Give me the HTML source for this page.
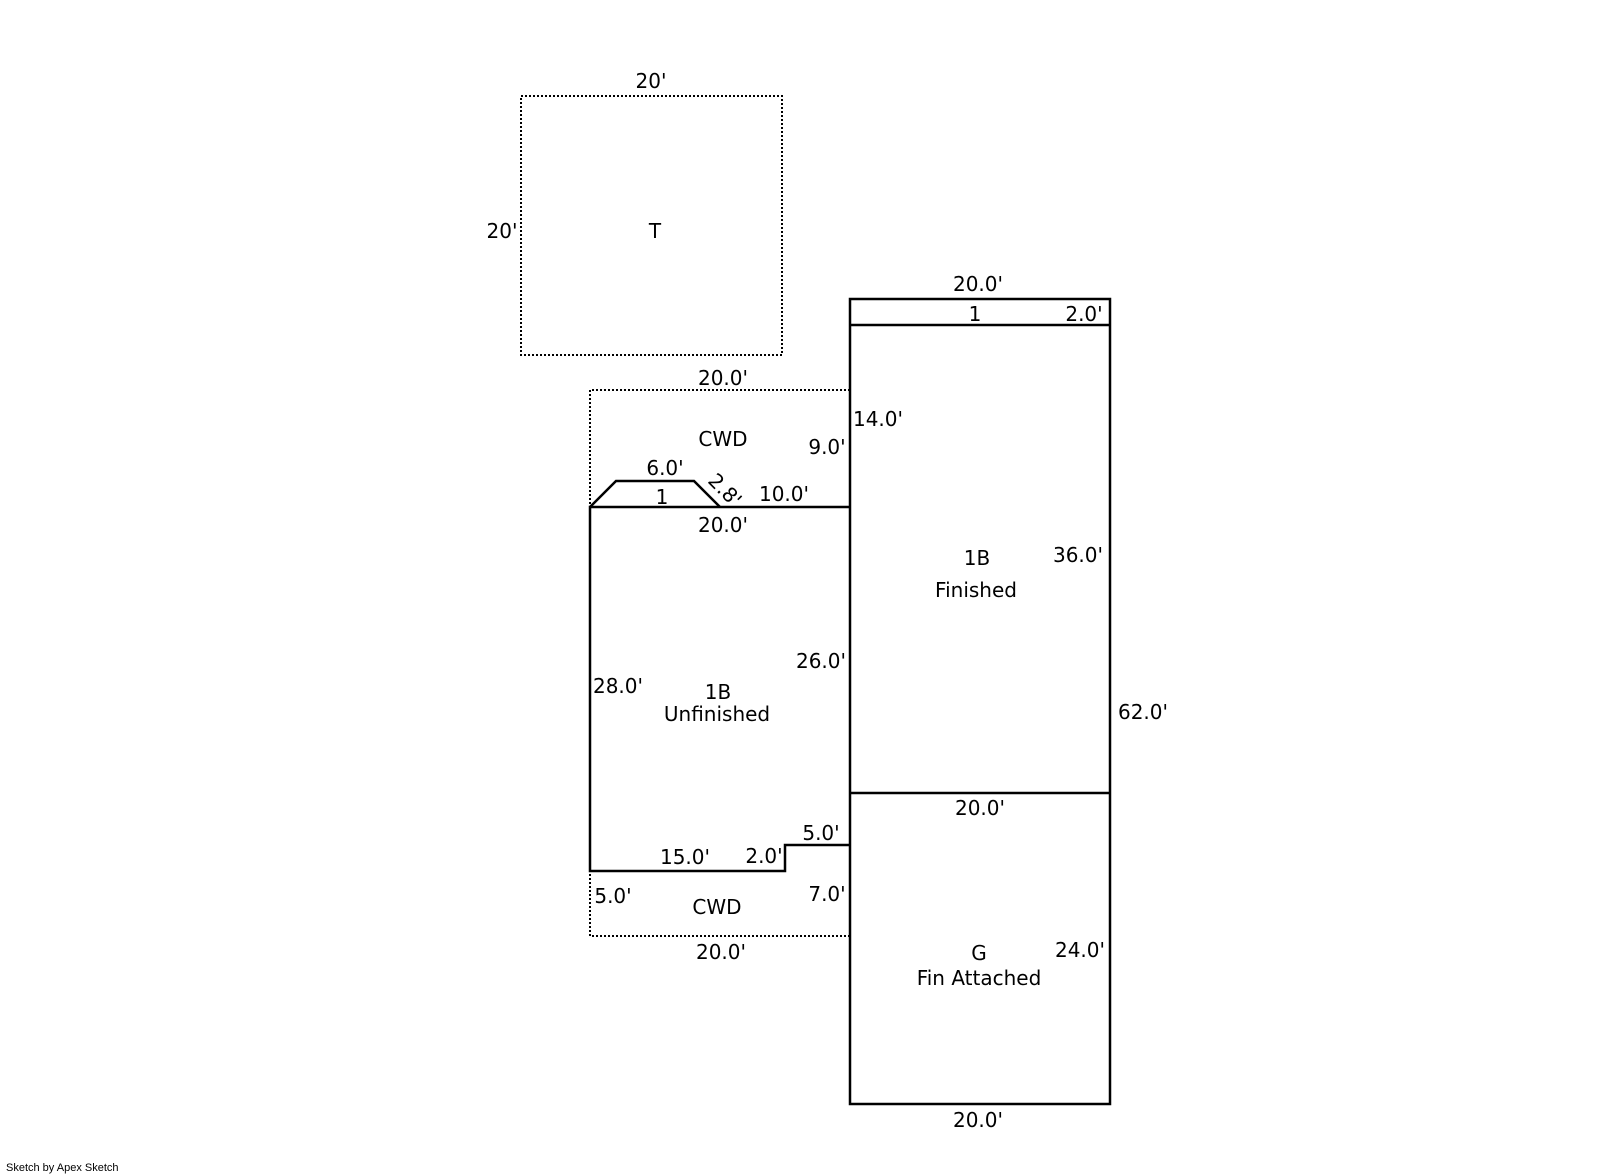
<!DOCTYPE html>
<html><head><style>html,body{margin:0;padding:0;background:#fff}svg{display:block}</style></head>
<body>
<svg width="1601" height="1174" viewBox="0 0 1601 1174" xmlns="http://www.w3.org/2000/svg" font-family="DejaVu Sans, Verdana, sans-serif" font-size="20" fill="#000">
<g fill="none" stroke="#000">
<rect x="521" y="96" width="261" height="259" stroke-width="2" stroke-dasharray="2,2"/>
<polyline points="850,390 590,390 590,936 850,936" stroke-width="2" stroke-dasharray="2,2"/>
<line x1="850" y1="507" x2="850" y2="793" stroke-width="1.5" stroke-dasharray="2,2"/>
<rect x="850" y="299" width="260" height="805" stroke-width="2.5"/>
<line x1="850" y1="325" x2="1110" y2="325" stroke-width="2.5"/>
<line x1="850" y1="793" x2="1110" y2="793" stroke-width="2.5"/>
<polyline points="850,507 590,507 590,871 785,871 785,845 850,845" stroke-width="2.5"/>
<polyline points="590,507 616,481 694,481 720,507" stroke-width="2.5"/>
</g>
<g text-anchor="middle" dominant-baseline="central">
<text x="651" y="81">20'</text>
<text x="502" y="231">20'</text>
<text x="655" y="231">T</text>
<text x="978" y="284">20.0'</text>
<text x="975" y="314">1</text>
<text x="1084" y="314">2.0'</text>
<text x="723" y="378">20.0'</text>
<text x="723" y="439">CWD</text>
<text x="878" y="419">14.0'</text>
<text x="827" y="447">9.0'</text>
<text x="665" y="468">6.0'</text>
<text x="662" y="497">1</text>
<text x="725" y="490" transform="rotate(45 725 490)">2.8'</text>
<text x="784" y="494">10.0'</text>
<text x="723" y="525">20.0'</text>
<text x="977" y="558">1B</text>
<text x="976" y="590">Finished</text>
<text x="1078" y="555">36.0'</text>
<text x="821" y="661">26.0'</text>
<text x="618" y="686">28.0'</text>
<text x="718" y="692">1B</text>
<text x="717" y="714">Unfinished</text>
<text x="1143" y="712">62.0'</text>
<text x="980" y="808">20.0'</text>
<text x="821" y="833">5.0'</text>
<text x="685" y="857">15.0'</text>
<text x="764" y="856">2.0'</text>
<text x="613" y="896">5.0'</text>
<text x="717" y="907">CWD</text>
<text x="827" y="894">7.0'</text>
<text x="721" y="952">20.0'</text>
<text x="979" y="953">G</text>
<text x="979" y="978">Fin Attached</text>
<text x="1080" y="950">24.0'</text>
<text x="978" y="1120">20.0'</text>
</g>
<text x="6" y="1171" font-size="11" font-family="Liberation Sans, sans-serif">Sketch by Apex Sketch</text>
</svg>
</body></html>
